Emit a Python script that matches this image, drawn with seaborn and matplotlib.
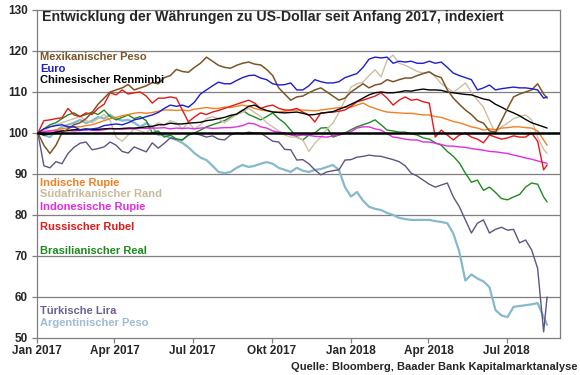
import pandas as pd
import matplotlib.pyplot as plt
import seaborn as sns

# Wochenwerte (Montag), Index Anfang 2017 = 100, letzter Punkt 17.08.2018
dates = list(pd.date_range('2017-01-02', '2018-08-13', freq='7D')) + [pd.Timestamp('2018-08-17')]

mxn = [100, 97, 95, 97, 100, 101, 102, 102.5, 103.5, 105,
       107, 108.5, 110, 110.5, 111, 111.8, 110.5, 111, 111.5, 112.3,
       112, 113.5, 114, 115.5, 115, 114.8, 116, 117, 118.5, 117.5,
       116.5, 116, 115.8, 116.5, 117, 117.3, 116.8, 116.6, 115.5, 114,
       111, 109.5, 108, 108.8, 109, 109.8, 110.5, 111, 110, 109,
       108, 108.5, 110, 111, 112, 111, 111.7, 112, 113, 112.5,
       113, 113.4, 113.4, 114, 114.5, 114.9, 114, 113.5, 110.5, 108.5,
       107, 105.6, 104.5, 103, 102.4, 100.5, 100.2, 103, 106, 108.8,
       109.5, 110, 110.5, 112, 109.5, 108.5]
eur = [100, 101, 101.5, 101.8, 102, 101.5, 101.5, 100.8, 100.8, 101,
       101.2, 101.8, 102, 102.2, 102, 102.5, 103.2, 103.5, 104, 104.4,
       105, 106, 106.8, 106.5, 106.8, 106.3, 107.5, 109.5, 110.5, 111.5,
       112.4, 112, 112, 112.8, 113.5, 114, 114.1, 113.4, 113, 112,
       111.7, 111.8, 112.2, 110.5, 110.5, 111.5, 113, 112.5, 112.2, 112.2,
       112.5, 113.5, 114, 114.5, 116, 118, 118.5, 118.3, 118.5, 117,
       117.5, 117.3, 117.5, 117, 117, 117.5, 117, 117.3, 116, 114.6,
       114, 113.5, 113, 110.5, 111, 111.7, 110.5, 110.8, 111, 111.2,
       111, 111, 110.8, 110.5, 108.5, 108.8]
cny = [100, 99.5, 99.8, 100.2, 100.5, 100.6, 100.8, 100.8, 101, 100.8,
       100.9, 101, 101.1, 101, 101.1, 101.2, 101.2, 101.3, 101.5, 101.6,
       102, 102, 102.4, 102.2, 102.2, 102.4, 102.5, 102.6, 103, 103.2,
       103.5, 103.8, 104.3, 104.6, 105.5, 106.5, 106.8, 106, 105.5, 105.1,
       105, 104.9, 105, 105.1, 104.8, 104.4, 104.5, 104.8, 105, 105.2,
       105.8, 106.3, 107, 107.7, 108.5, 109.3, 109.8, 110, 109.8, 109.8,
       110, 110.3, 110.2, 110.5, 110.7, 110.5, 110.5, 110.4, 110, 109.8,
       109.6, 109.4, 109.3, 108.8, 108.3, 108, 107, 106.3, 105.5, 104.9,
       104.2, 103.3, 102.5, 102, 101.5, 101.2]
inr = [100, 100.3, 100.5, 100.8, 101, 101.3, 101.5, 101.5, 101.8, 102,
       102.5, 103, 103.5, 103.8, 104.2, 104.5, 104.8, 105, 104.8, 105,
       105.3, 105.6, 105.6, 105.5, 105.6, 105.4, 105.8, 106, 106.2, 106,
       106, 106.3, 106.2, 106.5, 106.8, 106.5, 106, 105.6, 105.4, 105.2,
       105.1, 105.3, 105.5, 105.6, 105.6, 105.5, 105.4, 105.6, 105.8, 106,
       106.2, 106.3, 106.3, 106.8, 107.3, 106.5, 106, 105.5, 105.1, 105,
       104.9, 104.8, 104.8, 104.6, 104.4, 104.4, 104, 103.8, 103.3, 102.8,
       102.5, 102, 101.5, 101.2, 100.7, 101, 100.8, 101.2, 101.3, 101.5,
       101.5, 101.3, 101.2, 100.5, 98.3, 97]
zar = [100, 100.5, 101.5, 102, 102.5, 103, 103.5, 104, 103, 102.5,
       103.5, 104.5, 103, 99, 98, 99.5, 101, 100.5, 100, 101.5,
       102.5, 102, 103, 102.5, 101, 102.5, 101, 102, 103.5, 104,
       103.5, 102.5, 103.5, 104.5, 105, 106, 105, 104, 102.5, 101.5,
       100.5, 99.5, 99, 99, 98.3, 95.5, 97.5, 99, 101, 102.4,
       105, 108, 111.2, 112, 112.4, 114, 115.4, 113.7, 117.8, 119,
       117, 116.5, 115.8, 115, 114.6, 115, 113.7, 112, 111, 110,
       111, 112.2, 110, 108, 106.3, 103, 100, 101.5, 102.4, 103.5,
       104, 104.4, 103.2, 99, 96, 95]
idr = [100, 100.3, 100.5, 100.5, 100.4, 100.6, 100.5, 100.6, 100.8, 100.7,
       100.6, 100.8, 101, 101, 100.9, 101, 101, 101.2, 101.1, 101.2,
       101.2, 101.3, 101, 101.2, 101.1, 101.2, 101, 101.2, 101.3, 101.1,
       101.2, 101.3, 101.3, 101.5, 101.8, 102.4, 102.2, 101.5, 101.2, 100.5,
       100.2, 100, 99.5, 99.3, 99.5, 99.4, 99.2, 99.1, 99, 99.3,
       99.5, 100, 100.3, 101.2, 101.5, 101.5, 101, 100.7, 99.8, 99,
       98.8, 98.5, 98.3, 98.3, 97.8, 97.8, 97.5, 97.2, 96.8, 96.8,
       96.6, 96.5, 96.2, 96, 95.8, 95.5, 95.4, 95.2, 95, 94.6,
       94.3, 93.9, 93.6, 93.2, 92.8, 92.6]
rub = [100, 103, 103.2, 103.5, 103.7, 106, 104.4, 104, 104.9, 104.5,
       106, 107, 109.8, 109.3, 110.5, 109.5, 109.8, 110, 109, 107.3,
       108.5, 108.5, 108.8, 108.5, 105.6, 102.7, 103.9, 104.9, 104.5, 105.1,
       105.5, 106, 106.5, 107, 107.5, 108, 107.3, 106, 106.5, 106.8,
       106, 105.6, 105.6, 106, 105.1, 104.4, 102.7, 104.9, 105, 105.1,
       105.3, 105.6, 106.5, 107.6, 108, 108.5, 109, 109.8, 108.5, 106.8,
       108, 108.8, 108, 108.2, 107.6, 107.3, 99, 100.7, 99.5, 98.3,
       99.5, 100, 99, 98.5, 97.6, 99.5, 99, 98.5, 98.8, 99.3,
       99, 99, 100, 98, 91, 92.2]
brl = [100, 101, 102, 102.5, 103.5, 104.4, 104.9, 104, 104.5, 105.1,
       104.5, 105.6, 104, 103.2, 103.8, 104.4, 103.5, 104, 103, 100,
       100.5, 99, 99.5, 98.5, 98.3, 99.5, 100, 100.7, 101.5, 102,
       102.5, 103, 103.9, 104.5, 105.6, 104.5, 103.9, 103.2, 104, 104.9,
       103.5, 102.4, 100.7, 99, 98.3, 99.5, 100, 101.2, 101.3, 99,
       99.5, 100, 100.8, 101.5, 102, 102.5, 103.2, 102, 100.7, 100.5,
       100.2, 100.2, 99.8, 99.5, 98.8, 98.5, 97.6, 97, 95.5, 94.3,
       92.7, 90.2, 88, 88.5, 86, 86.8, 85.5, 84, 83.7, 84.4,
       85, 86.8, 87.8, 87.5, 84.4, 83.2]
tryl = [100, 92, 91.5, 93, 92.5, 95, 96.5, 97.5, 97.8, 95.9,
        96.2, 96.6, 97.8, 97, 95.5, 95.1, 96.6, 96, 95.4, 97.6,
        96.3, 97.5, 98.8, 98.5, 98.3, 99.5, 100, 99.5, 99, 99.3,
        98.5, 98.3, 99.5, 100, 99.8, 100.2, 100, 100, 99, 98,
        97.8, 96, 95.9, 93.4, 93.5, 92.5, 91, 89.8, 90.5, 90.8,
        91, 93.4, 93.5, 94.1, 94.3, 94.6, 94.4, 94.3, 93.9, 93.5,
        93, 92, 90.2, 89.5, 88.5, 87.5, 86.8, 87.3, 87.8, 84.4,
        82, 78.8, 75.6, 78, 78.8, 75.6, 76.5, 77, 76.3, 76.5,
        73.2, 73.9, 71.5, 67, 51.5, 60]
ars = [100, 99.5, 99, 100.5, 101.5, 102, 102.5, 103.2, 102.4, 103,
       103.9, 103.5, 104.4, 103.5, 103, 103.2, 102.5, 101.5, 102.4, 101.5,
       99.5, 99.5, 98.8, 98.3, 97.6, 96.5, 95.1, 94, 93.4, 92,
       90.5, 90.2, 90.5, 91.5, 92.2, 91.7, 92, 92.5, 92.9, 92.5,
       91.5, 91, 90.5, 91.5, 90.8, 90.5, 91, 91.2, 91.7, 92.2,
       91, 86.8, 84.5, 85.6, 83.5, 82, 81.5, 81.2, 80.5, 80,
       79.3, 79, 78.8, 78.8, 78.8, 78.8, 78.5, 78.3, 78, 75.5,
       71, 64, 65.5, 64.5, 63.8, 62.4, 56.8, 55.5, 55.1, 57.6,
       57.8, 58, 58.2, 58.5, 55.1, 53.2]

tick_dates = ['2017-01-01', '2017-04-01', '2017-07-01', '2017-10-01',
              '2018-01-01', '2018-04-01', '2018-07-01']
tick_labels = ['Jan 2017', 'Apr 2017', 'Jul 2017', 'Okt 2017',
               'Jan 2018', 'Apr 2018', 'Jul 2018']

# (Name, Werte, Linienfarbe, Beschriftungsfarbe, Linienstärke)
series = [
    ('Argentinischer Peso', ars, '#85B9CB', '#9DBBD3', 1.6),
    ('Türkische Lira', tryl, '#5F5482', '#6B6190', 1.0),
    ('Brasilianischer Real', brl, '#1E8A1E', '#1E8A1E', 1.0),
    ('Südafrikanischer Rand', zar, '#CDBFA3', '#C9B99B', 1.0),
    ('Indische Rupie', inr, '#F28022', '#F28022', 1.0),
    ('Indonesische Rupie', idr, '#E22DE2', '#E22DE2', 1.0),
    ('Russischer Rubel', rub, '#E41818', '#E41818', 1.0),
    ('Chinesischer Renminbi', cny, '#000000', '#000000', 1.0),
    ('Mexikanischer Peso', mxn, '#7C5526', '#7C5526', 1.1),
    ('Euro', eur, '#1C1CD2', '#1C1CD2', 1.0),
]

# Position der farbigen Beschriftungen (Achsenanteil)
label_y = {
    'Mexikanischer Peso': 0.857, 'Euro': 0.820, 'Chinesischer Renminbi': 0.787,
    'Indische Rupie': 0.473, 'Südafrikanischer Rand': 0.439,
    'Indonesische Rupie': 0.399, 'Russischer Rubel': 0.338,
    'Brasilianischer Real': 0.265, 'Türkische Lira': 0.082,
    'Argentinischer Peso': 0.046,
}

sns.set_style('white')
plt.rcParams['font.family'] = ['Liberation Sans', 'DejaVu Sans']

fig = plt.figure(figsize=(5.8, 3.75), dpi=100)
ax = fig.add_axes([0.0638, 0.0987, 0.9017, 0.8747])

for y in [60, 70, 80, 90, 110, 120]:
    ax.axhline(y, color='#7F7F7F', lw=0.9, zorder=1)

for name, vals, col, lcol, lw in series:
    sns.lineplot(x=dates, y=vals, color=col, lw=lw, ax=ax, zorder=2)
    ax.text(0.006, label_y[name], name, transform=ax.transAxes, color=lcol,
            fontsize=8, fontweight='bold', va='center', ha='left')

ax.axhline(100, color='black', lw=1.8, zorder=3)

ax.set_xlim(pd.Timestamp('2017-01-01'), pd.Timestamp('2018-09-01'))
ax.set_ylim(50, 130)
ax.set_yticks(range(50, 131, 10))
ax.set_xticks([pd.Timestamp(d) for d in tick_dates])
ax.set_xticklabels(tick_labels)
ax.set_xlabel('')
ax.set_ylabel('')
ax.tick_params(axis='both', labelsize=8.5, length=3.5, width=0.9, color='#7F7F7F',
               direction='out', bottom=True, left=True)
ax.tick_params(axis='x', pad=1.5)
ax.tick_params(axis='y', pad=3)
for lab in ax.get_xticklabels() + ax.get_yticklabels():
    lab.set_fontweight('bold')
for sp in ax.spines.values():
    sp.set_color('#7F7F7F')
    sp.set_linewidth(0.9)

ax.text(0.01, 0.979, 'Entwicklung der Währungen zu US-Dollar seit Anfang 2017, indexiert',
        transform=ax.transAxes, fontsize=10.2, fontweight='bold', va='center', ha='left')
fig.text(0.995, 0.022, 'Quelle: Bloomberg, Baader Bank Kapitalmarktanalyse',
         fontsize=8, fontweight='bold', ha='right', va='center')

fig.savefig('out.png', dpi=100)
